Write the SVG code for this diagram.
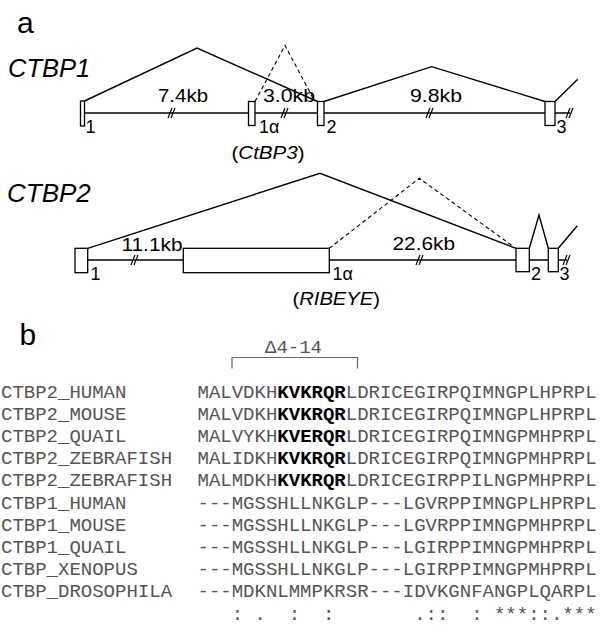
<svg xmlns="http://www.w3.org/2000/svg" width="600" height="642" viewBox="0 0 600 642">
<style>
.ln{stroke:#000;stroke-width:1.4;fill:none}
.ds{stroke:#000;stroke-width:1.1;fill:none;stroke-dasharray:4 3}
.ex{stroke:#000;stroke-width:1.3;fill:#fff}
.sans{font-family:"Liberation Sans",Arial,sans-serif;fill:#000}
.it{font-style:italic}
.kb{font-size:19px}
.exl{font-size:18px}
.mono{font-family:"Liberation Mono","Courier New",monospace;font-size:19px;fill:#555}
.b{font-weight:bold;fill:#000}
</style>
<defs>
<g id="brk"><path d="M-4,5 L0,-5 M-1,5 L3,-5" stroke="#000" stroke-width="1.2" fill="none"/></g>
</defs>
<rect width="600" height="642" fill="#fff"/>
<text class="sans" x="17" y="33" font-size="30">a</text>
<g id="ctbp1">
<text class="sans it" x="8" y="76.5" font-size="25.5">CTBP1</text>
<g id="connectors1">
<line class="ln" x1="84" y1="113" x2="570" y2="113"/>
<polyline class="ln" points="84.5,101 197,48 317.5,101.5"/>
<polyline class="ds" points="255,101.5 285,45.5 314,100"/>
<polyline class="ln" points="324,101.5 431.7,66.7 545,101.5"/>
<polyline class="ln" points="555,101.5 577.7,79.3"/>
<use href="#brk" x="172" y="113"/>
<use href="#brk" x="285" y="113"/>
<use href="#brk" x="430" y="113"/>
<use href="#brk" x="570" y="113"/>
</g>
<g id="c1e1"><rect class="ex" x="80.5" y="101" width="4" height="25"/><text class="sans exl" x="85.5" y="133">1</text></g>
<g id="c1e1a"><rect class="ex" x="248.5" y="101.5" width="6.5" height="24"/><text class="sans exl" x="259" y="133">1α</text>
<text class="sans" x="231.5" y="158.5" font-size="19" textLength="73" lengthAdjust="spacingAndGlyphs">(<tspan class="it">CtBP3</tspan>)</text></g>
<g id="c1e2"><rect class="ex" x="317.5" y="101.5" width="6.5" height="24"/><text class="sans exl" x="326.5" y="133">2</text></g>
<g id="c1e3"><rect class="ex" x="545" y="101.5" width="10" height="24"/><text class="sans exl" x="556.5" y="133">3</text></g>
<text class="sans kb" x="158" y="101.5" textLength="50" lengthAdjust="spacingAndGlyphs">7.4kb</text>
<text class="sans kb" x="263" y="102" textLength="52" lengthAdjust="spacingAndGlyphs">3.0kb</text>
<text class="sans kb" x="410" y="102" textLength="52" lengthAdjust="spacingAndGlyphs">9.8kb</text>
</g>
<g id="ctbp2">
<text class="sans it" x="7" y="201.5" font-size="26">CTBP2</text>
<g id="connectors2">
<line class="ln" x1="87.7" y1="260" x2="567" y2="260"/>
<polyline class="ln" points="87.7,248.3 320,173.3 516,248.3"/>
<polyline class="ds" points="329.3,248.3 419.3,178.3 514,247"/>
<polyline class="ln" points="529.3,248.3 539,215 548.3,248.3"/>
<polyline class="ln" points="558.3,248.3 577.3,225.7"/>
<use href="#brk" x="135" y="260"/>
<use href="#brk" x="420" y="260"/>
<use href="#brk" x="567" y="260"/>
</g>
<g id="c2e1"><rect class="ex" x="75" y="248.3" width="12.7" height="24.4"/><text class="sans exl" x="90.5" y="280">1</text></g>
<g id="c2e1a"><rect class="ex" x="183.3" y="248.3" width="146" height="24.4"/><text class="sans exl" x="332.5" y="280">1α</text>
<text class="sans" x="292.5" y="305" font-size="19" textLength="87.5" lengthAdjust="spacingAndGlyphs">(<tspan class="it">RIBEYE</tspan>)</text></g>
<g id="c2e2"><rect class="ex" x="516" y="248.3" width="13.3" height="23.4"/><text class="sans exl" x="531" y="280">2</text></g>
<g id="c2e3"><rect class="ex" x="548.3" y="248.3" width="10" height="23.4"/><text class="sans exl" x="559.5" y="280">3</text></g>
<text class="sans kb" x="121.5" y="250.5" textLength="61" lengthAdjust="spacingAndGlyphs">11.1kb</text>
<text class="sans kb" x="392.5" y="250" textLength="62.5" lengthAdjust="spacingAndGlyphs">22.6kb</text>
</g>
<text class="sans" x="19.5" y="345" font-size="30">b</text>
<g id="alignment">
<text class="mono" x="265" y="353">Δ4-14</text>
<path d="M232,368.5 V357.5 H357.5 V368.5" stroke="#666" stroke-width="1.2" fill="none"/>
<g id="labels">
<text class="mono" x="1" y="397.5">CTBP2_HUMAN</text>
<text class="mono" x="1" y="419.7">CTBP2_MOUSE</text>
<text class="mono" x="1" y="441.9">CTBP2_QUAIL</text>
<text class="mono" x="1" y="464.1">CTBP2_ZEBRAFISH</text>
<text class="mono" x="1" y="486.3">CTBP2_ZEBRAFISH</text>
<text class="mono" x="1" y="508.5">CTBP1_HUMAN</text>
<text class="mono" x="1" y="530.7">CTBP1_MOUSE</text>
<text class="mono" x="1" y="552.9">CTBP1_QUAIL</text>
<text class="mono" x="1" y="575.1">CTBP_XENOPUS</text>
<text class="mono" x="1" y="597.3">CTBP_DROSOPHILA</text>
</g>
<g id="seqs">
<text class="mono" x="197.5" y="397.5">MALVDKH<tspan class="b">KVKRQR</tspan>LDRICEGIRPQIMNGPLHPRPL</text>
<text class="mono" x="197.5" y="419.7">MALVDKH<tspan class="b">KVKRQR</tspan>LDRICEGIRPQIMNGPLHPRPL</text>
<text class="mono" x="197.5" y="441.9">MALVYKH<tspan class="b">KVERQR</tspan>LDRICEGIRPQIMNGPMHPRPL</text>
<text class="mono" x="197.5" y="464.1">MALIDKH<tspan class="b">KVKRQR</tspan>LDRICEGIRPQIMNGPMHPRPL</text>
<text class="mono" x="197.5" y="486.3">MALMDKH<tspan class="b">KVKRQR</tspan>LDRICEGIRPPILNGPMHPRPL</text>
<text class="mono" x="197.5" y="508.5">---MGSSHLLNKGLP---LGVRPPIMNGPLHPRPL</text>
<text class="mono" x="197.5" y="530.7">---MGSSHLLNKGLP---LGVRPPIMNGPMHPRPL</text>
<text class="mono" x="197.5" y="552.9">---MGSSHLLNKGLP---LGIRPPIMNGPMHPRPL</text>
<text class="mono" x="197.5" y="575.1">---MGSSHLLNKGLP---LGIRPPIMNGPMHPRPL</text>
<text class="mono" x="197.5" y="597.3">---MDKNLMMPKRSR---IDVKGNFANGPLQARPL</text>
<text class="mono" x="197.5" y="619.5" xml:space="preserve">   : .  :  :       .::  : ***::.***</text>
</g>
</g>
</svg>
